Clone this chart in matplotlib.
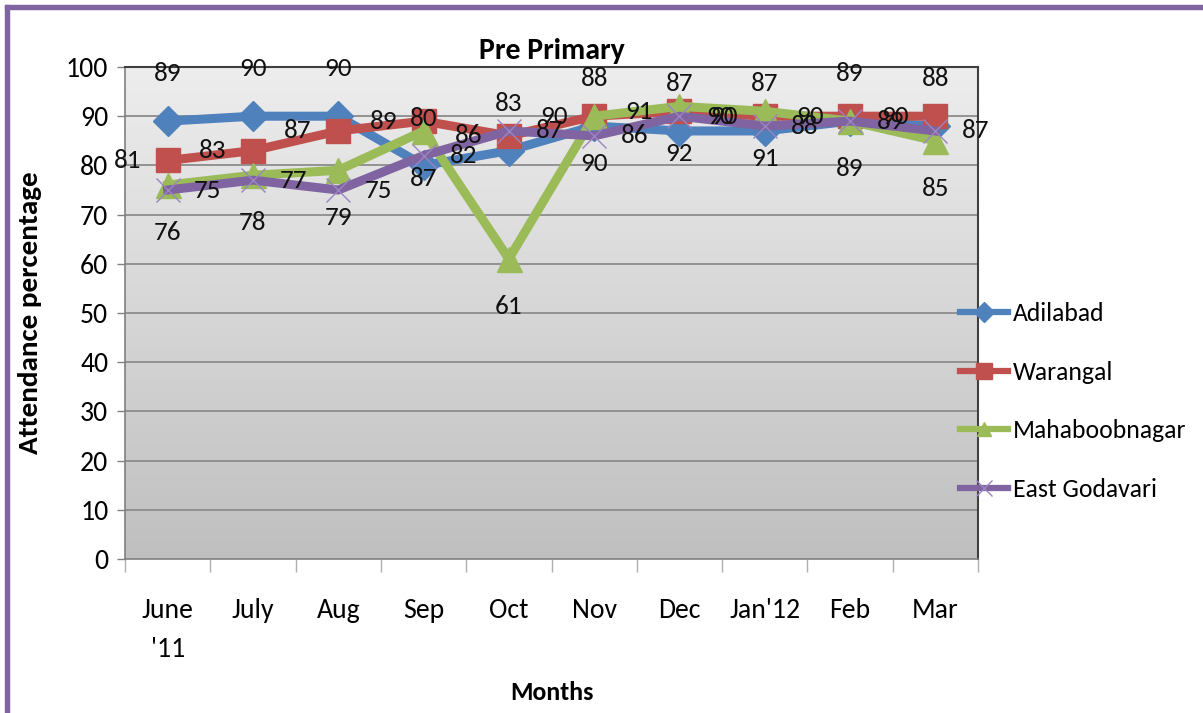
import matplotlib
matplotlib.use("Agg")
import matplotlib.pyplot as plt
import numpy as np
from matplotlib import font_manager as fm
from matplotlib.patches import Rectangle
from matplotlib.lines import Line2D

months = ["June\n'11", "July", "Aug", "Sep", "Oct", "Nov", "Dec", "Jan'12", "Feb", "Mar"]
adilabad = [89, 90, 90, 80, 83, 88, 87, 87, 89, 88]
warangal = [81, 83, 87, 89, 86, 90, 91, 90, 90, 90]
mahaboobnagar = [76, 78, 79, 87, 61, 90, 92, 91, 89, 85]
east_godavari = [75, 77, 75, 82, 87, 86, 90, 88, 89, 87]

series_names = ["Adilabad", "Warangal", "Mahaboobnagar", "East Godavari"]
yticks = list(range(0, 101, 10))

available = {f.name for f in fm.fontManager.ttflist}
fam = "DejaVu Sans"
for cand in ["Carlito", "PT Sans Narrow", "Roboto Condensed", "Archivo Narrow",
             "Fira Sans Condensed", "Open Sans"]:
    if cand in available:
        fam = cand
        break
plt.rcParams['font.family'] = [fam, 'DejaVu Sans']

W, H = 1203, 713
fig = plt.figure(figsize=(W / 100, H / 100), dpi=100)
fig.patch.set_facecolor("white")

l, r, t, b = 125, 978, 67, 559
ax = fig.add_axes([l / W, 1 - b / H, (r - l) / W, (b - t) / H])

x = np.arange(len(months))
grad = np.linspace(0.93, 0.75, 256).reshape(-1, 1)
ax.imshow(np.dstack([grad, grad, grad]), aspect='auto',
          extent=(-0.5, len(months) - 0.5, 0, 100), origin='upper', zorder=0)
ax.set_xlim(-0.5, len(months) - 0.5)
ax.set_ylim(0, 100)
ax.set_facecolor("none")

for yv in yticks[1:]:
    ax.axhline(yv, color="#8c8c8c", lw=1.3, zorder=1)

colors = ["#4F81BD", "#C0504D", "#9BBB59", "#8064A2"]
markers = ["D", "s", "^", "x"]
msizes = [15, 17, 18, 17]
data = [adilabad, warangal, mahaboobnagar, east_godavari]
handles = []
for name, vals, c, m, ms, z in zip(series_names, data, colors, markers, msizes, [3, 4, 5, 6]):
    if m == "x":
        ax.plot(x, vals, color=c, lw=6.5, marker=m, ms=ms, mew=1.0,
                mec="#9a85c2", zorder=z, solid_joinstyle='round')
        h = Line2D([], [], color=c, lw=4.5, marker=m, ms=11, mew=1.0, mec="#9a85c2")
    else:
        ax.plot(x, vals, color=c, lw=6.5, marker=m, ms=ms, mec=c,
                zorder=z, solid_joinstyle='round')
        h = Line2D([], [], color=c, lw=4.5, marker=m, ms=10 if m != "s" else 11, mec=c)
    handles.append(h)

lab_fs = 19.5
offsets = [(0, 34), (-29, 0), (0, -34), (29, 0)]
for vals, (dx, dy) in zip(data, offsets):
    for xi, v in zip(x, vals):
        ax.annotate(str(v), (xi, v), xytext=(dx, dy), textcoords='offset points',
                    ha='center', va='center', fontsize=lab_fs, color="#111111", zorder=10,
                    annotation_clip=False)

ax.set_yticks(yticks)
ax.set_yticklabels([str(v) for v in yticks], fontsize=20)
ax.set_xticks(x)
ax.set_xticklabels(months, fontsize=20, linespacing=1.7, va='top')
ax.set_xticks(np.arange(-0.5, len(months), 1), minor=True)
ax.tick_params(axis='x', which='major', length=0, pad=28)
ax.tick_params(axis='x', which='minor', length=9, color="#b0b0b0", width=1)
ax.tick_params(axis='y', length=6, color="#808080", width=1, pad=6)

for s in ["left", "bottom"]:
    ax.spines[s].set_color("#808080")
    ax.spines[s].set_linewidth(1.2)
for s in ["top", "right"]:
    ax.spines[s].set_color("#404040")
    ax.spines[s].set_linewidth(1.5)

ax.set_title("Pre Primary", fontsize=21.5, fontweight='bold', pad=6)
ax.set_ylabel("Attendance percentage", fontsize=21, fontweight='bold', labelpad=17)
ax.set_xlabel("Months", fontsize=18.5, fontweight='bold', labelpad=14)

fig.legend(handles=handles, labels=series_names, loc='upper left',
           bbox_to_anchor=(950 / W, 1 - 292 / H), frameon=False,
           fontsize=18.5, handlelength=1.85, labelspacing=1.38,
           handletextpad=0.2, borderaxespad=0)

fig.patches.append(Rectangle((5 / W, 0), 3.5 / W, 1 - 5 / H, transform=fig.transFigure,
                             color="#8064A2", zorder=20))
fig.patches.append(Rectangle((5 / W, 1 - 9 / H), 1 - 5 / W, 4 / H, transform=fig.transFigure,
                             color="#8064A2", zorder=20))

fig.savefig("out.png", dpi=100)
